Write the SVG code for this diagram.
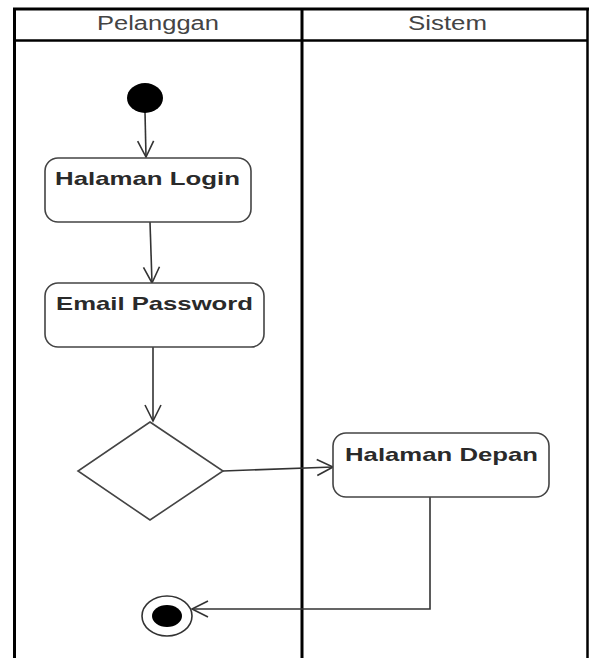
<svg xmlns="http://www.w3.org/2000/svg" width="591" height="658" viewBox="0 0 591 658">
  <style>
    .lane { stroke: #000; fill: none; }
    .head { font-family: "Liberation Sans", Arial, sans-serif; font-size: 20px; fill: #444; }
    .act { fill: #fff; stroke: #444; stroke-width: 1.6; }
    .lbl { font-family: "Liberation Sans", Arial, sans-serif; font-size: 19px; font-weight: bold; fill: #2a2a2a; }
    .flow { fill: none; stroke: #333; stroke-width: 1.6; }
  </style>
  <defs>
    <marker id="open" viewBox="0 0 20 20" refX="18" refY="10" markerWidth="20" markerHeight="20" markerUnits="userSpaceOnUse" orient="auto">
      <path d="M2 2 L18 10 L2 18" fill="none" stroke="#333" stroke-width="1.6"/>
    </marker>
  </defs>
  <rect width="591" height="658" fill="#fff"/>

  <!-- swimlanes -->
  <g id="lanes">
    <line class="lane" x1="13" y1="9" x2="589" y2="9" stroke-width="3"/>
    <line class="lane" x1="14.5" y1="40.5" x2="588" y2="40.5" stroke-width="2.5"/>
    <line class="lane" x1="14.5" y1="8" x2="14.5" y2="658" stroke-width="3"/>
    <line class="lane" x1="302" y1="8" x2="302" y2="658" stroke-width="3"/>
    <line class="lane" x1="587.5" y1="8" x2="587.5" y2="658" stroke-width="2.5"/>
    <text class="head" x="97" y="30" textLength="122" lengthAdjust="spacingAndGlyphs">Pelanggan</text>
    <text class="head" x="408" y="30" textLength="79" lengthAdjust="spacingAndGlyphs">Sistem</text>
  </g>

  <!-- connectors -->
  <g id="connectors">
    <path class="flow" d="M145 112 L146 157" marker-end="url(#open)"/>
    <path class="flow" d="M150 222 L152 283" marker-end="url(#open)"/>
    <path class="flow" d="M153 347 L153 421" marker-end="url(#open)"/>
    <path class="flow" d="M223 471 L333 467" marker-end="url(#open)"/>
    <path class="flow" d="M430 497 L430 609 L192 609" marker-end="url(#open)"/>
  </g>

  <g id="start">
    <ellipse cx="145" cy="98" rx="18" ry="15" fill="#000"/>
  </g>

  <g id="halaman-login">
    <rect class="act" x="45" y="158" width="206" height="64" rx="13"/>
    <text class="lbl" x="55" y="185" textLength="185" lengthAdjust="spacingAndGlyphs">Halaman Login</text>
  </g>

  <g id="email-password">
    <rect class="act" x="45" y="283" width="219" height="64" rx="13"/>
    <text class="lbl" x="56" y="310" textLength="197" lengthAdjust="spacingAndGlyphs">Email Password</text>
  </g>

  <g id="decision">
    <path class="act" d="M150 422 L223 471 L150 520 L78 471 Z"/>
  </g>

  <g id="halaman-depan">
    <rect class="act" x="333" y="433" width="216" height="64" rx="13"/>
    <text class="lbl" x="345" y="461" textLength="193" lengthAdjust="spacingAndGlyphs">Halaman Depan</text>
  </g>

  <g id="end">
    <ellipse cx="167" cy="616" rx="25" ry="20" fill="#fff" stroke="#333" stroke-width="1.6"/>
    <ellipse cx="167" cy="616" rx="15" ry="11" fill="#000"/>
  </g>
</svg>
